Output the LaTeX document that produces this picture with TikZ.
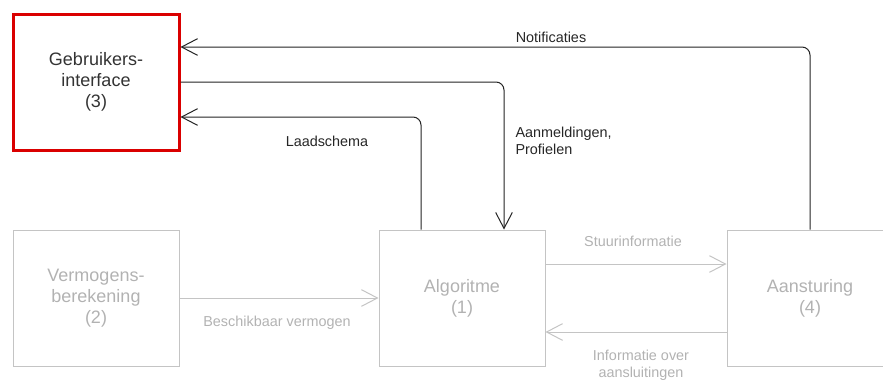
\documentclass[tikz,border=0pt]{standalone}
\usepackage{fontspec}
\setmainfont{Liberation Sans}
\usetikzlibrary{arrows.meta,calc}

\definecolor{guired}{RGB}{218,0,0}
\definecolor{lightgrey}{RGB}{196,196,196}
\definecolor{greytext}{RGB}{178,178,178}
\definecolor{darkline}{RGB}{35,35,35}

\tikzset{every picture/.style={line width=0.75pt}}
\tikzset{
  blok/.style={draw=lightgrey, text=greytext, minimum width=124.5pt, minimum height=102pt, align=center, inner sep=0pt, font=\fontsize{13.5}{15.75}\selectfont},
  actief/.style={blok, draw=guired, line width=2.25pt, text=black!80},
  pijl/.style={draw=darkline, rounded corners=6pt, -{Straight Barb[length=12pt,width=12.5pt]}},
  grijspijl/.style={draw=lightgrey, -{Straight Barb[length=12pt,width=12.5pt]}},
  lbl/.style={inner sep=0.75pt, align=center, font=\fontsize{10.8}{12.75}\selectfont},
}

\begin{document}
\begin{tikzpicture}[x=0.75pt,y=0.75pt,yscale=-1,xscale=1]
\useasboundingbox (0,0) rectangle (883,383);

%Shape: Rectangle [id:gui]
\node [actief] (gui) at (96,82) {Gebruikers-\\interface\\(3)};
%Shape: Rectangle [id:verm]
\node [blok] (verm) at (96,298) {Vermogens-\\berekening\\(2)};
%Shape: Rectangle [id:alg]
\node [blok] (alg) at (462,298) {Algoritme\\(1)};
%Shape: Rectangle [id:aan]
\node [blok] (aan) at (810,298) {Aansturing\\(4)};

%Straight Lines [id:notificaties]
\draw [pijl] (aan.north) |- ($(gui.east)+(0,-35)$);
%Straight Lines [id:aanmeldingen]
\draw [pijl] (gui.east) -| ($(alg.north)+(42,0)$);
%Straight Lines [id:laadschema]
\draw [pijl] ($(alg.north)+(-41,0)$) |- ($(gui.east)+(0,35)$);
%Straight Lines [id:vermogen]
\draw [grijspijl] (verm.east) -- (alg.west);
%Straight Lines [id:stuur]
\draw [grijspijl] ($(alg.east)+(0,-34)$) -- ($(aan.west)+(0,-34)$);
%Straight Lines [id:aansluit]
\draw [grijspijl] ($(aan.west)+(0,34)$) -- ($(alg.east)+(0,34)$);

% Text Node
\node [lbl, text=black!85] (notiflbl) at (551,37) {Notificaties};
% Text Node
\node [lbl, text=black!85, anchor=west, align=left] (aanmlbl) at (514,141) {Aanmeldingen,\\Profielen};
% Text Node
\node [lbl, text=black!85] (laadlbl) at (327,141) {Laadschema};
% Text Node
\node [lbl, text=greytext] (vermlbl) at (277,323) {Beschikbaar vermogen};
% Text Node
\node [lbl, text=greytext] (stuurlbl) at (633,241) {Stuurinformatie};
% Text Node
\node [lbl, text=greytext] (aansllbl) at (641,365) {Informatie over\\aansluitingen};

\end{tikzpicture}
\end{document}
